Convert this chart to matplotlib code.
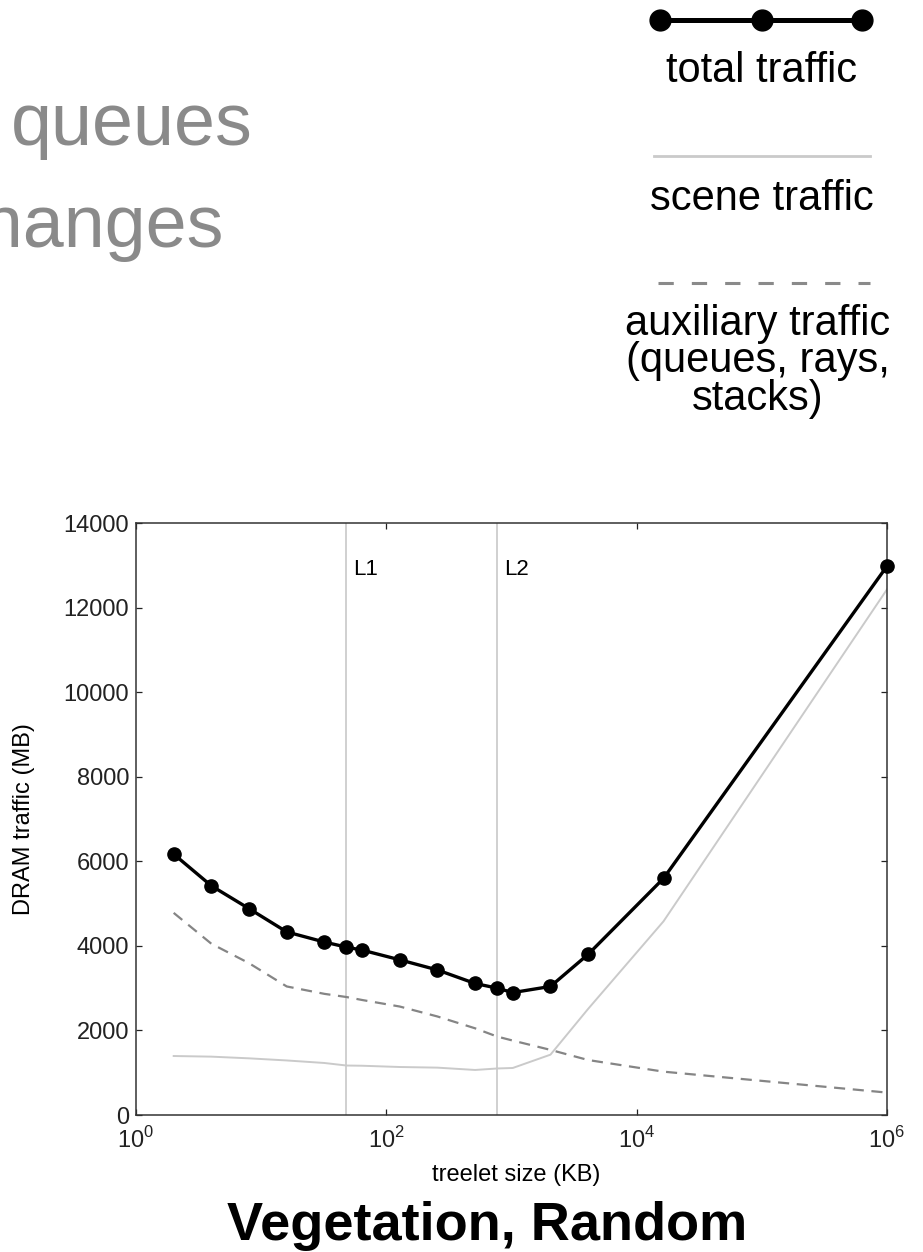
import math

import matplotlib
matplotlib.use("Agg")
import matplotlib.pyplot as plt
from matplotlib.lines import Line2D
from matplotlib.ticker import FixedLocator, NullLocator, FuncFormatter
from matplotlib.transforms import offset_copy

plt.rcParams["font.family"] = ["Liberation Sans", "DejaVu Sans"]
plt.rcParams["mathtext.fontset"] = "custom"
plt.rcParams["mathtext.rm"] = "Liberation Sans"
plt.rcParams["lines.scale_dashes"] = False

# ---- data -------------------------------------------------------------
treelet_kb = [2, 4, 8, 16, 32, 48, 64, 128, 256, 512, 768, 1024, 2048,
              4096, 16384, 1000000]
total_mb = [6170, 5420, 4880, 4330, 4090, 3970, 3900, 3670, 3430, 3110,
            3000, 2895, 3040, 3800, 5595, 12980]
scene_mb = [1395, 1380, 1340, 1290, 1230, 1170, 1165, 1135, 1120, 1065,
            1100, 1112, 1427, 2510, 4580, 12430]
aux_mb = [4780, 4050, 3590, 3040, 2865, 2790, 2720, 2565, 2330, 2050,
          1855, 1760, 1540, 1300, 1025, 530]

cache_kb = [48, 768]
cache_names = ["L1", "L2"]

x_ticks = [1, 100, 10000, 1000000]
y_ticks = [0, 2000, 4000, 6000, 8000, 10000, 12000, 14000]

legend_labels = ["total traffic", "scene traffic",
                 ["auxiliary traffic", "(queues, rays,", "stacks)"]]

# ---- figure -----------------------------------------------------------
W, H = 923, 1252
fig = plt.figure(figsize=(W / 100, H / 100), dpi=100)


def fx(px):
    return px / W


def fy(py):
    return 1 - py / H


ax = fig.add_axes([fx(136), fy(1115), fx(887) - fx(136), fy(523) - fy(1115)])
ax.set_xscale("log")
ax.set_xlim(1, 1e6)
ax.set_ylim(0, 14000)

for xc, name in zip(cache_kb, cache_names):
    ax.axvline(xc, color="#c4c4c4", lw=1.1, zorder=1)
    ax.text(xc, 12900, name, fontsize=16, va="center", ha="left",
            transform=offset_copy(ax.transData, fig=fig, x=5, y=0,
                                  units="points"))

ax.plot(treelet_kb, scene_mb, color="#cacaca", lw=1.4, zorder=2)
ax.plot(treelet_kb, aux_mb, color="#858585", lw=1.6, dashes=(8, 5.5),
        zorder=2)
ax.plot(treelet_kb, total_mb, color="black", lw=2.4, marker="o",
        markersize=9.5, zorder=3, clip_on=False)

ax.xaxis.set_major_locator(FixedLocator(x_ticks))
ax.xaxis.set_minor_locator(NullLocator())
ax.xaxis.set_major_formatter(
    FuncFormatter(lambda v, p: r"$10^{%d}$" % round(math.log10(v))))
ax.set_yticks(y_ticks)
ax.tick_params(direction="in", length=4.5, width=0.9, top=True, right=True,
               labelsize=17, colors="#222222", pad=5)
ax.tick_params(axis="x", pad=9, labelsize=17)
for s in ax.spines.values():
    s.set_linewidth(1.1)
    s.set_color("#333333")

ax.set_ylabel("DRAM traffic (MB)", fontsize=17)
ax.yaxis.set_label_coords(-0.135, 0.5)

fig.text(fx(516), fy(1181), "treelet size (KB)", fontsize=17,
         ha="center", va="baseline")
fig.text(fx(487), fy(1240), "Vegetation, Random", fontsize=39,
         fontweight="bold", ha="center", va="baseline")

# ---- slide text on the left ------------------------------------------
fig.text(fx(253), fy(145), "queues", fontsize=53, color="#8a8a8a",
         ha="right", va="baseline")
fig.text(fx(224), fy(247), "changes", fontsize=53, color="#8a8a8a",
         ha="right", va="baseline")

# ---- legend key ------------------------------------------------------
cx = 762
fig.add_artist(Line2D([fx(660), fx(762), fx(862)], [fy(20)] * 3,
                      color="black", lw=3.6, marker="o", markersize=15))
fig.text(fx(cx), fy(82), legend_labels[0], fontsize=30, ha="center",
         va="baseline")
fig.add_artist(Line2D([fx(654), fx(870)], [fy(156)] * 2,
                      color="#cacaca", lw=2.0))
fig.text(fx(cx), fy(210), legend_labels[1], fontsize=30, ha="center",
         va="baseline")
fig.add_artist(Line2D([fx(658), fx(870)], [fy(283)] * 2,
                      color="#8a8a8a", lw=2.2, dashes=(11, 13)))
# multi-line label: baseline alignment anchors its last line
fig.text(fx(cx - 4), fy(410), "\n".join(legend_labels[2]), fontsize=30,
         ha="center", va="baseline", multialignment="center",
         linespacing=0.92)

fig.savefig("out.png", dpi=100)
